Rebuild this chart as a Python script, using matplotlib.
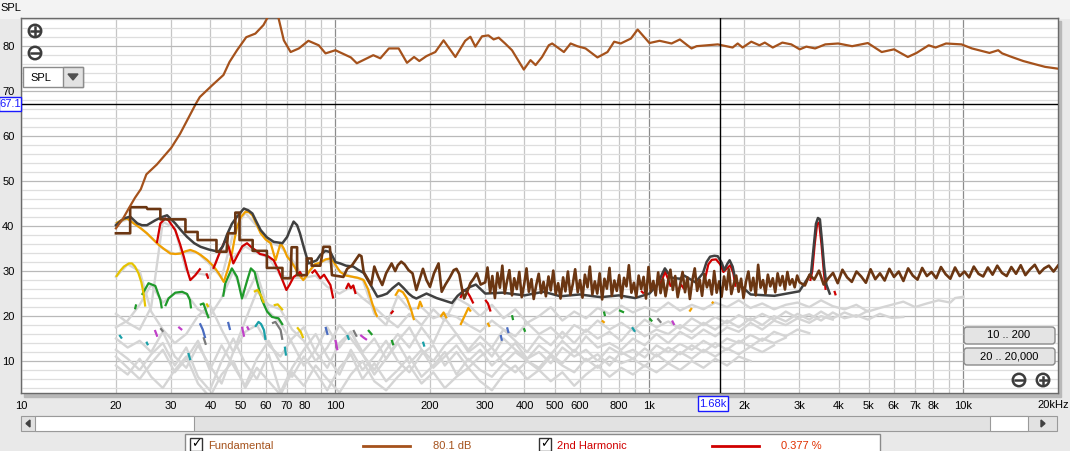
import numpy as np
import matplotlib.pyplot as plt
from matplotlib.patches import Rectangle, Circle, FancyBboxPatch, Polygon

# ---------------- data (Hz, dB SPL) ----------------
fund_f = [20, 21, 22, 23, 24, 25, 27, 30, 32, 34, 36, 37, 40.5, 44, 46, 48.6, 52, 55.6, 59, 61.5,
          65.5, 68.5, 72, 76.5, 82, 88.5, 93, 100, 112, 117, 132, 139, 148, 159, 169, 178, 185, 195,
          208, 221, 241, 259, 269, 279, 293, 307, 319, 331, 347, 365, 398, 418, 434, 455, 478, 490,
          534, 561, 589, 626, 683, 735, 772, 810, 873, 917, 1000, 1077, 1176, 1250, 1361, 1413, 1650,
          1840, 1910, 1980, 2110, 2240, 2330, 2470, 2650, 2830, 3010, 3160, 3370, 3630, 3990, 4420,
          4960, 5490, 6010, 6650, 7090, 7750, 8150, 8800, 9860, 10640, 12100, 12900, 13280, 14250,
          15500, 16880, 18200, 20000]
fund_db = [39.5, 41.5, 44.0, 46.3, 48.2, 51.5, 53.7, 57.4, 60.5, 64.0, 67.3, 68.7, 71.3, 73.6, 76.5,
           79.1, 82.0, 82.8, 84.7, 87.0, 87.0, 81.3, 78.7, 79.5, 81.2, 80.2, 78.4, 79.1, 77.5, 76.2,
           78.0, 77.3, 79.5, 79.5, 76.3, 77.6, 76.7, 77.8, 78.7, 81.3, 77.6, 81.2, 82.1, 79.9, 82.2,
           82.4, 81.5, 81.9, 80.6, 79.1, 74.8, 76.9, 75.8, 77.6, 80.2, 80.6, 78.7, 80.6, 80.0, 79.5,
           77.5, 78.7, 81.0, 80.6, 81.7, 83.7, 80.7, 81.2, 80.6, 81.5, 79.5, 80.0, 80.4, 79.7, 80.6,
           79.7, 81.0, 80.2, 80.8, 79.7, 80.8, 80.4, 79.3, 79.9, 79.5, 80.4, 80.6, 80.0, 80.7, 78.7,
           79.3, 77.6, 78.5, 80.2, 79.7, 80.6, 80.4, 79.5, 78.5, 79.1, 78.4, 77.6, 76.7, 76.0, 75.4, 75.0]

# noise floor, three bands
noise_lo_f = [20, 22.2, 22.2, 25, 25.2, 27.7, 27.7, 33.3, 33.3, 36.4, 36.4, 41.8, 41.8, 45, 45.5, 48,
              48, 49.5, 49.5, 54.5, 54.5, 60.5, 60.5, 67.8, 67.8, 72, 72.5, 75.5, 75.5, 81, 81, 84,
              84, 89.5, 91.6, 96, 97.5, 106, 109, 113, 119, 121, 123, 130, 133, 137, 141, 145, 151,
              155, 158, 162, 166, 171, 176, 181, 186, 190, 195, 200, 206, 213, 218, 224, 231, 238,
              243, 248, 253, 257, 263, 269, 276, 282, 290]
noise_lo_db = [38.4, 38.4, 44.2, 44.2, 43.8, 43.8, 41.5, 41.5, 38.7, 38.7, 36.9, 36.9, 34.3, 34.3,
               38.4, 38.4, 43.0, 43.0, 36.9, 36.9, 34.5, 34.5, 30.7, 30.7, 28.4, 28.4, 35.3, 35.3,
               29.1, 29.1, 32.8, 32.8, 31.2, 31.2, 35.4, 35.4, 29.1, 28.7, 30.5, 31.3, 33.6, 33.3,
               29.8, 26.9, 31.0, 28.7, 26.9, 29.5, 31.7, 30.0, 31.3, 32.1, 31.5, 30.2, 29.5, 25.8,
               28.4, 30.5, 28.0, 26.5, 29.5, 31.7, 25.4, 27.0, 28.5, 30.2, 30.5, 29.3, 26.0, 23.9,
               25.5, 27.3, 28.4, 29.5, 27.0]
noise_mid_f = [300, 305, 311, 316, 322, 328, 334, 340, 346, 352, 358, 365, 371, 378, 385, 392, 399,
               406, 413, 421, 428, 436, 444, 452, 460, 468, 477, 485, 494, 503, 512, 521, 531, 540,
               550, 560, 570, 580, 591, 601, 612, 623, 635, 646, 658, 670, 682, 694, 707, 719, 732,
               746, 759, 773, 787, 801, 815, 830, 845, 860, 876, 892, 908, 924, 941, 958, 975, 993,
               1010, 1029, 1047, 1066, 1085, 1105, 1125, 1145, 1166, 1187, 1208, 1230, 1252, 1275,
               1298, 1321, 1345, 1369, 1394, 1419, 1445, 1471, 1497, 1524, 1552, 1580, 1608, 1637,
               1667, 1697, 1728, 1759, 1790, 1823, 1856, 1889, 1923, 1958, 1993, 2029, 2066, 2103,
               2141, 2180, 2219, 2259, 2300, 2341, 2383, 2426, 2470, 2515, 2560, 2606, 2653, 2701,
               2750, 2799, 2850, 2901, 2954, 3007]
noise_mid_db = [27.5, 30.8, 25.2, 28.9, 24.0, 29.6, 26.3, 31.2, 25.0, 27.8, 30.2, 24.6, 28.4, 26.0,
                29.8, 24.2, 27.0, 30.6, 25.4, 28.2, 23.8, 26.9, 29.4, 25.1, 27.6, 24.4, 28.8, 25.7,
                30.1, 24.9, 27.3, 23.9, 28.6, 25.5, 29.9, 24.7, 27.1, 30.4, 25.3, 28.0, 24.1, 29.2,
                26.4, 31.0, 24.8, 27.7, 25.0, 29.5, 23.7, 28.3, 26.1, 30.7, 24.5, 27.9, 25.6, 29.1,
                24.0, 28.5, 26.6, 31.3, 25.2, 27.4, 24.3, 29.0, 26.0, 28.7, 23.9, 30.9, 25.5, 27.8,
                24.6, 29.7, 25.1, 28.2, 24.4, 27.5, 30.3, 25.8, 28.9, 24.2, 27.0, 29.8, 25.3, 28.6,
                23.8, 27.9, 30.6, 25.6, 28.1, 24.5, 29.3, 26.4, 28.0, 24.8, 30.0, 25.2, 27.7, 24.3,
                28.8, 25.9, 30.4, 24.9, 27.2, 29.0, 25.4, 28.3, 24.0, 27.6, 29.9, 25.7, 28.5, 24.6,
                31.4, 26.3, 28.0, 25.0, 29.2, 26.6, 28.4, 25.3, 29.5, 26.8, 28.9, 25.9, 29.8, 27.0,
                28.2, 26.4, 29.0, 27.5]
noise_hi_f = [3126, 3235, 3349, 3466, 3587, 3713, 3843, 3977, 4117, 4261, 4410, 4564, 4724, 4889,
              5060, 5238, 5421, 5611, 5807, 6010, 6221, 6438, 6664, 6897, 7138, 7388, 7647, 7914,
              8191, 8478, 8775, 9082, 9400, 9729, 10069, 10422, 10787, 11164, 11555, 11959, 12378,
              12811, 13260, 13724, 14204, 14701, 15216, 15748, 16299, 16870, 17460, 18072, 18704,
              19359, 20000]
noise_hi_db = [26.8, 29.2, 28.1, 30.1, 27.0, 28.4, 29.6, 27.3, 30.3, 28.6, 27.6, 29.9, 28.8, 27.4,
               30.4, 28.2, 29.5, 27.9, 30.5, 28.7, 29.9, 27.8, 30.6, 29.0, 28.1, 30.7, 28.9, 29.8,
               28.4, 30.9, 29.3, 28.3, 30.8, 28.9, 29.9, 28.6, 31.0, 29.4, 28.8, 30.8, 29.2, 31.2,
               29.6, 28.9, 30.9, 29.4, 31.3, 29.1, 30.4, 31.4, 29.5, 30.6, 31.2, 29.9, 31.2]

thd_f = [20, 20.6, 21.2, 22.2, 23.4, 24.2, 25.1, 26.7, 28, 29.1, 30, 30.9, 32.3, 33.7, 35.5, 37.2,
         39.5, 42.4, 43.8, 45.1, 46.8, 48.6, 51.1, 52.8, 54.4, 56, 57.8, 60.5, 63.6, 67.8, 70.2, 72,
         73.6, 75.5, 77.1, 79.5, 82.1, 84.5, 87.2, 89.5, 93, 96.4, 100, 103.6, 108, 114, 118, 123,
         128, 133, 136, 141, 146, 152, 159, 165, 171, 176, 181, 195, 210, 235, 245, 254, 262, 269,
         280, 300, 340, 400, 460, 520, 600, 700, 800, 900, 1000, 1060, 1100, 1120, 1150, 1180,
         1250, 1290, 1400, 1480, 1520, 1560, 1610, 1650, 1700, 1730, 1770, 1800, 1840, 1870, 1900,
         2100, 2500, 3000, 3200, 3270, 3330, 3390, 3440, 3490, 3540, 3600, 3660, 3750]
thd_db = [40.2, 41.0, 41.7, 42.1, 40.6, 40.2, 40.2, 41.3, 42.0, 42.4, 41.5, 40.6, 39.0, 37.6, 36.2,
          35.4, 34.8, 34.3, 35.5, 38.0, 40.5, 42.1, 43.9, 43.5, 42.8, 41.0, 39.1, 37.5, 36.5, 36.2,
          37.6, 39.5, 41.0, 40.2, 38.4, 35.0, 31.7, 32.0, 32.4, 33.6, 34.5, 34.2, 32.0, 31.7, 31.2,
          31.0, 30.3, 29.6, 27.5, 25.5, 24.3, 24.6, 25.0, 26.2, 27.3, 26.2, 25.0, 24.3, 23.9, 25.0,
          24.0, 22.9, 24.5, 25.4, 26.0, 26.5, 27.0, 25.0, 25.2, 24.6, 25.4, 24.4, 24.8, 24.2, 24.6,
          24.0, 25.0, 27.0, 29.5, 30.6, 29.4, 28.5, 28.3, 29.0, 27.5, 29.5, 32.0, 33.2, 33.4, 33.3,
          31.8, 30.2, 31.6, 32.4, 31.0, 28.7, 27.5, 24.8, 24.5, 25.5, 28.5, 29.5, 35.0, 40.5, 41.8,
          41.5, 37.0, 31.0, 27.0, 25.0]

# harmonic curves (light grey where they sit below the noise), common frequency grid
harm_f = [20, 21.8, 23.8, 25.9, 28.2, 30.8, 33.5, 36.5, 39.8, 43.4, 47.3, 51.6, 56.2, 61.3, 66.8,
          72.8, 79.3, 86.5, 94.2, 103, 112, 122, 133, 145, 158, 172, 188, 205, 223, 243, 265, 289,
          315, 343, 374, 408, 445, 485, 528, 576, 628, 684, 746, 813, 886, 966, 1053, 1148, 1251,
          1364, 1486, 1620, 1766, 1925, 2098, 2287, 2493, 2717, 2962, 3228, 3519, 3835, 4181, 4557,
          4967, 5414, 5902, 6433, 7012, 7643, 8331, 9080, 9400, 10000]
h2_db = [20.5, 18.5, 17.0, 22.0, 41.0, 39.5, 30.0, 29.5, 29.0, 35.0, 33.0, 35.5, 34.0, 33.0, 29.0,
         28.5, 28.5, 29.0, 26.5, 25.0, 26.5, 24.0, 22.0, 19.5, 17.5, 20.5, 18.0, 21.5, 19.0, 24.0,
         22.5, 20.0, 22.5, 19.5, 21.5, 18.5, 20.0, 22.0, 19.0, 21.0, 19.5, 21.8, 20.5, 22.3, 20.8,
         22.0, 21.0, 23.0, 21.2, 22.5, 21.5, 23.0, 22.0, 23.5, 21.8, 22.8, 21.5, 22.5, 23.0, 22.0,
         23.5, 22.2, 21.5, 22.5, 21.0, 21.8, 22.5, 23.2, 22.0, 22.8, 23.5, 23.0, 24.0, 24.3]
h3_db = [40.6, 41.5, 39.8, 37.5, 35.0, 33.8, 34.3, 34.0, 31.5, 28.5, 38.5, 43.0, 40.0, 36.5, 35.5,
         32.5, 28.5, 31.5, 32.5, 30.0, 28.8, 28.2, 20.5, 18.0, 24.5, 21.5, 22.0, 19.5, 20.5, 19.8,
         18.0, 16.5, 19.0, 17.0, 15.5, 18.5, 16.0, 17.5, 15.0, 18.0, 16.5, 19.0, 17.0, 18.5, 16.8,
         19.2, 17.5, 18.8, 17.2, 19.5, 18.0, 19.8, 18.4, 20.2, 19.0, 20.5, 19.2, 21.0, 19.6, 20.4,
         19.0, 20.8, 19.5, 20.2, 19.2, 20.5, 19.6, 19.8]
h4_db = [28.7, 31.5, 30.0, 21.0, 17.0, 14.0, 16.0, 20.0, 22.5, 17.0, 12.0, 19.0, 25.5, 22.5, 21.5,
         17.0, 14.5, 10.0, 13.0, 18.0, 15.0, 11.5, 8.0, 12.5, 16.0, 13.0, 17.5, 14.0, 19.5, 16.0,
         12.5, 15.5, 13.0, 17.0, 14.5, 12.0, 15.5, 13.5, 16.5, 14.0, 17.0, 15.0, 16.5, 14.5, 17.5,
         15.5, 17.0, 16.0, 18.0, 16.5, 18.5, 17.0, 19.0, 17.5, 19.5, 18.0, 20.0, 18.8, 20.5, 19.2,
         21.0, 19.5, 20.8, 19.8, 21.2]
h5_db = [17.5, 19.0, 22.5, 27.0, 23.0, 25.0, 25.0, 21.5, 20.0, 24.0, 30.0, 24.0, 29.5, 21.0, 18.5,
         14.0, 9.0, 12.5, 17.5, 13.0, 16.5, 12.0, 15.0, 10.5, 14.5, 17.5, 12.5, 10.0, 13.5, 16.0,
         12.0, 14.0, 11.0, 15.0, 12.5, 10.5, 13.5, 11.5, 14.5, 12.0, 15.5, 13.0, 14.0, 12.5, 15.0,
         13.5, 16.0, 14.0, 16.5, 15.0, 17.0, 15.5, 17.5, 16.5, 18.5, 17.0, 19.0, 18.0, 19.5, 18.5,
         20.0, 19.2]
h6_db = [15.0, 13.0, 14.5, 12.0, 16.5, 11.0, 8.5, 13.5, 9.0, 5.0, 12.0, 16.5, 18.0, 13.5, 11.0,
         15.0, 17.5, 12.0, 8.5, 14.0, 16.5, 11.5, 7.0, 10.5, 14.0, 9.5, 12.5, 8.5, 11.0, 13.5, 10.0,
         12.5, 9.0, 11.5, 14.0, 10.5, 12.0, 9.5, 13.0, 11.0, 12.5, 10.0, 13.0, 11.5, 12.5, 10.8,
         13.5, 12.0, 13.8, 12.5, 14.5, 13.0, 15.0, 14.0, 15.8, 14.5, 16.5, 15.5, 17.0, 16.2]
h7_db = [12.5, 10.5, 8.0, 11.5, 14.0, 9.0, 13.0, 6.5, 3.5, 10.0, 15.0, 9.5, 6.0, 11.5, 3.0, 8.5,
         12.5, 16.0, 11.0, 7.0, 12.5, 8.0, 11.0, 14.5, 10.0, 7.5, 11.5, 13.5, 9.0, 12.0, 8.5, 11.0,
         13.0, 9.5, 12.0, 10.0, 8.5, 11.5, 9.5, 12.5, 10.0, 11.5, 9.0, 12.0, 10.5, 12.8, 11.0, 13.0,
         11.5, 13.5, 12.0, 14.0, 12.5, 14.5, 13.2, 15.0, 14.0, 15.2]
h8_db = [11.0, 8.5, 6.0, 9.5, 12.5, 7.5, 10.5, 14.5, 8.0, 13.5, 9.0, 4.5, 10.5, 14.5, 9.5, 6.5,
         11.0, 7.5, 3.5, 8.5, 11.5, 6.0, 9.5, 5.5, 8.0, 11.0, 6.5, 9.0, 12.0, 7.0, 10.5, 8.0, 6.5,
         9.5, 7.5, 10.0, 8.0, 11.0, 9.0, 7.5, 10.5, 8.5, 11.0, 9.5, 10.5, 8.8, 11.5, 9.5, 12.0,
         10.5, 12.5, 11.0, 12.8, 11.5, 13.2, 12.0, 13.5]
h9_db = [9.0, 7.0, 10.5, 6.5, 4.0, 8.0, 11.0, 5.0, 2.0, 7.0, 10.0, 4.0, 8.5, 5.5, 2.5, 7.5, 4.5,
         9.0, 6.0, 3.0, 7.0, 10.0, 5.5, 3.5, 6.5, 9.0, 5.0, 7.5, 4.0, 6.5, 8.5, 5.5, 3.5, 7.0, 9.0,
         6.0, 8.0, 5.5, 7.5, 4.5, 7.0, 9.0, 6.5, 8.5, 7.0, 9.0, 7.5, 9.5, 8.0, 10.0, 8.5, 10.5,
         9.0, 11.0, 10.0]

# parts of the harmonics that are shown in colour
red_parts = [
    [(27, 36.2), (27.7, 40.6), (28.7, 41.7), (29.4, 41.3), (30.9, 39.1), (32.0, 36.0), (32.9, 33.2),
     (33.8, 30.0), (34.5, 28.0), (35.8, 29.1), (37.2, 30.6)],
    [(38.8, 29.5), (39.4, 28.3)],
    [(40.8, 30.5), (41.5, 31.7), (43, 34.5), (44.6, 36.9), (45.7, 35.4), (47.3, 31.7), (49.1, 33.9),
     (50.5, 35.5), (52.3, 36.2), (54, 35.3), (55.5, 34.7), (57.5, 33.8), (59.2, 33.6), (61, 33.3),
     (63.6, 32.4), (66, 30.0), (67.8, 28.0), (69.8, 25.8), (71.5, 27.0), (73.6, 28.7), (75.5, 29.2),
     (77.1, 29.8), (78.5, 28.8)],
    [(84, 29.5), (86, 30.2), (89.5, 28.4), (92, 29.2), (96.4, 26.9), (98.4, 23.9)],
    [(108, 26.0), (110, 27.2), (112, 26.2), (114, 26.8), (116, 24.9)],
    [(150, 20.5), (153, 21.2)],
    [(250, 24.0), (256, 25.8), (262, 25.5), (268, 24.4), (275, 22.8)],
    [(300, 23.6), (306, 22.8), (312, 21.0)],
    [(940, 25.6), (960, 25.0)],
    [(1080, 27.0), (1110, 29.0), (1120, 30.0), (1150, 28.0), (1170, 26.5)],
    [(1230, 25.5), (1260, 27.0), (1290, 26.0)],
    [(1500, 28.0), (1540, 31.5), (1580, 32.5), (1630, 32.6), (1680, 31.5), (1720, 29.8),
     (1760, 30.5), (1810, 31.3), (1850, 29.5), (1880, 26.5)],
    [(3250, 27.8), (3300, 30.0), (3360, 36.0), (3420, 40.5), (3470, 40.8), (3530, 36.0),
     (3590, 30.0), (3640, 25.8)],
    [(3880, 25.6), (3920, 24.6)],
]
orange_parts = [
    [(20, 40.6), (20.8, 41.3), (21.7, 41.7), (22.8, 40.6), (24, 39.5), (25.1, 38.4), (26.3, 37.0),
     (27.4, 35.8), (28.6, 34.8), (29.8, 33.9), (31, 33.8), (32.1, 33.9), (33.3, 34.4), (34.5, 34.7),
     (35.8, 34.3), (37.2, 33.6), (39, 32.5), (41, 31.0), (42.5, 29.5), (44.1, 27.6), (45.5, 30.5),
     (46.8, 33.9), (47.7, 37.0), (48.6, 39.8), (50, 42.0), (51.7, 43.2), (53, 43.1), (54.4, 42.4),
     (56, 40.5), (57.8, 38.4), (60, 37.0), (62.2, 36.2), (63.5, 34.0), (64.5, 32.4), (65.5, 34.0),
     (66.9, 36.2), (68.5, 35.0), (70.2, 33.2), (72, 32.3), (74, 31.0), (76, 29.5), (79, 28.0),
     (81, 29.0), (83, 30.2), (86, 31.5), (89.5, 31.9), (93, 32.6), (96.4, 32.8), (98.5, 32.1),
     (103.6, 29.8), (108, 29.0), (114, 28.7), (118, 28.5), (123, 28.0), (127, 26.0), (131, 22.8),
     (134, 20.8), (136, 19.8)],
    [(155, 24.5), (159, 25.8), (164, 25.3), (169, 23.9), (174, 21.5), (178, 19.1)],
    [(183, 21.5), (186, 23.2), (189, 22.0)],
    [(216, 19.8), (221, 20.8), (226, 19.5)],
    [(250, 18.0), (257, 19.8), (265, 21.8), (270, 21.0)],
    [(305, 18.5), (310, 17.6)],
    [(705, 19.0), (720, 18.5)],
    [(1340, 21.0), (1365, 21.8)],
    [(1580, 22.8), (1600, 23.2)],
]
yellow_parts = [
    [(20, 28.7), (20.6, 30.0), (21.2, 31.0), (22, 31.7), (22.5, 31.7), (23, 31.0), (23.6, 29.5),
     (24.1, 27.5), (24.5, 25.0), (24.8, 22.1)],
    [(38.8, 22.8), (39.4, 22.0)],
    [(55, 25.4), (56.5, 25.8), (58, 24.5), (59.2, 22.9)],
    [(63.6, 22.4), (65.5, 22.6), (68, 21.3)],
    [(75.5, 17.5), (77.5, 16.5), (79, 15.1)],
]
green_parts = [
    [(23.0, 21.5), (23.2, 22.6)],
    [(24.2, 24.7), (25.4, 27.3), (26.7, 26.7), (27.7, 23.6), (28, 21.7)],
    [(28.7, 22.2), (29.4, 23.9), (30.9, 25.2), (32.5, 25.4), (33.7, 24.9), (34.4, 23.6), (34.7, 21.7)],
    [(37.0, 22.5), (38.0, 22.8), (39.0, 20.5), (39.5, 19.5)],
    [(43.9, 24.3), (44.6, 27.3), (46.8, 30.6), (48.6, 28.7), (50.4, 23.9), (52.4, 28.0), (53.8, 30.6),
     (55.3, 29.8), (56.1, 28.0), (58.3, 23.6), (60.6, 21.0), (62.8, 19.8), (65.9, 19.5), (68, 18.0)],
    [(127, 16.9), (131, 15.8)],
    [(151, 14.7), (153, 13.5)],
    [(365, 20.2), (368, 19.1)],
    [(398, 17.3), (402, 16.5)],
    [(716, 21.0), (722, 20.0)],
    [(800, 21.3), (830, 20.8)],
    [(1000, 19.5), (1020, 18.8)],
]
teal_parts = [
    [(20.5, 15.8), (20.9, 15.0)],
    [(25.0, 14.3), (25.3, 13.5)],
    [(34.0, 11.8), (34.5, 10.2)],
    [(55.5, 17.6), (56.9, 18.7), (58.0, 18.2), (59.2, 16.9), (59.9, 14.7)],
    [(69, 13.2), (69.6, 11.2)],
    [(109, 15.8), (110.5, 14.7)],
    [(190, 14.3), (192, 13.2)],
    [(880, 17.5), (900, 16.5)],
]
blue_parts = [
    [(37.0, 18.4), (37.8, 17.0), (38.5, 15.1)],
    [(45.5, 18.7), (46.2, 16.9)],
    [(93, 17.6), (94.5, 15.8)],
    [(336, 15.8), (339, 14.5)],
    [(352, 17.5), (356, 16.2)],
]
purple_parts = [
    [(26.6, 16.9), (27.1, 15.4)],
    [(31.6, 17.6), (32.5, 16.9)],
    [(50.4, 17.6), (51.2, 15.4)],
    [(52.3, 17.7), (53.0, 16.9)],
    [(100, 14.7), (101.5, 12.4)],
    [(120, 15.8), (123, 15.2), (126, 14.7)],
    [(1180, 19.0), (1200, 18.0)],
]
grey_parts = [
    [(27.7, 17.3), (28.3, 16.5)],
    [(38.0, 15.3), (38.7, 13.6)],
    [(62.8, 18.4), (64.4, 18.7), (66.9, 16.9), (67.8, 14.7)],
    [(114, 16.9), (117, 15.4)],
    [(1060, 19.5), (1090, 18.5)],
]

tick_f = [10, 20, 30, 40, 50, 60, 70, 80, 100, 200, 300, 400, 500, 600, 800, 1000, 2000, 3000,
          4000, 5000, 6000, 7000, 8000, 10000]
tick_lbl = ['10', '20', '30', '40', '50', '60', '70', '80', '100', '200', '300', '400', '500', '600',
            '800', '1k', '2k', '3k', '4k', '5k', '6k', '7k', '8k', '10k']
ytick_v = [10, 20, 30, 40, 50, 60, 70, 80]
cursor_f, cursor_db = 1680, 67.1

# ---------------- figure ----------------
plt.rcParams['font.family'] = ['Liberation Sans', 'DejaVu Sans']
W, H = 1070, 451
fig = plt.figure(figsize=(W / 100, H / 100), dpi=100)
fig.patch.set_facecolor('#e9e9e9')
T = fig.dpi_scale_trans


def P(x, y):
    return (x / 100, (H - y) / 100)


# top strip and plot shadow
fig.add_artist(Rectangle(P(0, 18), W / 100, 0.18, transform=T, color='#f3f3f3', zorder=0))
fig.add_artist(Rectangle(P(24, 397), (1061 - 24) / 100, (397 - 21) / 100, transform=T,
                         color='#b8b8b8', zorder=0))

L, R, TOP, BOT = 21.4, 1058, 18.3, 392.7
ax = fig.add_axes([L / W, 1 - BOT / H, (R - L) / W, (BOT - TOP) / H])
ax.set_xscale('log')
ax.set_xlim(10, 20000)
ax.set_ylim(2.96, 86.2)
ax.set_facecolor('white')
for s in ax.spines.values():
    s.set_color('#6a6a6a')
    s.set_linewidth(1.0)

# grid
for k in range(1, 5):
    for m in range(1, 10):
        f = m * 10 ** k
        if f < 20000:
            ax.axvline(f, color='#8c8c8c' if m == 1 else '#c6c6c6', lw=0.9, zorder=1)
for v in range(4, 87, 2):
    ax.axhline(v, color='#b9b9b9' if v % 10 == 0 else '#dedede', lw=0.9, zorder=1)

# harmonic traces in light grey
for hdb in [h2_db, h3_db, h4_db, h5_db, h6_db, h7_db, h8_db, h9_db]:
    ax.plot(harm_f[:len(hdb)], hdb, color='#d5d5d5', lw=1.7, zorder=2, solid_joinstyle='round')

# coloured parts
for parts, col in [(grey_parts, '#7a7a7a'), (purple_parts, '#c040c8'), (blue_parts, '#4a6cc0'),
                   (teal_parts, '#1aa0a8'), (green_parts, '#1f9a2a'), (yellow_parts, '#e6c300'),
                   (orange_parts, '#f0a000'), (red_parts, '#d00000')]:
    for part in parts:
        pf, pd = zip(*part)
        ax.plot(pf, pd, color=col, lw=1.6, zorder=3, solid_capstyle='butt')

ax.plot(thd_f, thd_db, color='#404040', lw=1.8, zorder=4)
noise = list(zip(noise_lo_f, noise_lo_db)) + list(zip(noise_mid_f, noise_mid_db)) + \
    list(zip(noise_hi_f, noise_hi_db))
nf, nd = zip(*noise)
ax.plot(nf, nd, color='#6b3612', lw=1.9, zorder=5)
ax.plot(fund_f, fund_db, color='#a5521c', lw=1.6, zorder=6)

# cursor
ax.axhline(cursor_db, color='black', lw=1.0, zorder=7)
ax.axvline(cursor_f, color='black', lw=1.0, zorder=7)

# ticks
ax.set_xticks(tick_f)
ax.set_xticklabels(tick_lbl, fontsize=8)
ax.minorticks_off()
ax.set_yticks(ytick_v)
ax.set_yticklabels([str(v) for v in ytick_v], fontsize=8)
ax.tick_params(length=0, pad=6)
ax.tick_params(axis='y', pad=5)
fig.text(1037 / W, 1 - 405 / H, '20kHz', fontsize=8, ha='left', va='center')

fig.text(0.0, 1 - 8 / H, 'SPL', fontsize=8, va='center', ha='left')

# cursor labels
fig.add_artist(Rectangle(P(-1, 111), 22 / 100, 14 / 100, transform=T, facecolor='white',
                         edgecolor='#1a1aff', lw=1.0, zorder=8))
fig.text(10 / W, 1 - 104 / H, f'{cursor_db:.1f}', color='#1a1aff', fontsize=8, ha='center',
         va='center', zorder=9)
fig.add_artist(Rectangle(P(698, 411), 30 / 100, 15 / 100, transform=T, facecolor='white',
                         edgecolor='#1a1aff', lw=1.0, zorder=8))
fig.text(713 / W, 1 - 404 / H, '1.68k', color='#1a1aff', fontsize=8, ha='center', va='center',
         zorder=9)


def zoom_icon(cx, cy, plus):
    fig.add_artist(Circle(P(cx, cy), 0.062, transform=T, facecolor='white', edgecolor='#3c3c3c',
                          lw=1.8, zorder=10))
    x0, y0 = P(cx, cy)
    fig.add_artist(plt.Line2D([x0 - 0.035, x0 + 0.035], [y0, y0], transform=T, color='#3c3c3c',
                              lw=1.8, zorder=11))
    if plus:
        fig.add_artist(plt.Line2D([x0, x0], [y0 - 0.035, y0 + 0.035], transform=T,
                                  color='#3c3c3c', lw=1.8, zorder=11))


zoom_icon(35, 31, True)
zoom_icon(35, 53, False)
zoom_icon(1019, 380, False)
zoom_icon(1043, 380, True)

# SPL selector
fig.add_artist(Rectangle(P(23, 87), 0.60, 0.20, transform=T, facecolor='white',
                         edgecolor='#8c8c8c', lw=1.0, zorder=10))
fig.add_artist(Rectangle(P(63, 87), 0.20, 0.20, transform=T, facecolor='#e2e2e2',
                         edgecolor='#8c8c8c', lw=1.0, zorder=10))
fig.add_artist(Polygon([P(68, 74), P(78, 74), P(73, 80)], closed=True, transform=T,
                       color='#505050', zorder=11))
fig.text(30 / W, 1 - 78 / H, 'SPL', fontsize=8, va='center', ha='left', zorder=11)

# range buttons
for y0, lbl in [(327, '10 .. 200'), (348, '20 .. 20,000')]:
    fig.add_artist(FancyBboxPatch(P(964, y0 + 17), 0.91, 0.17, transform=T,
                                  boxstyle='round,pad=0,rounding_size=0.03',
                                  facecolor='#e4e4e4', edgecolor='#8a8a8a', lw=1.0, zorder=10))
    fig.text(1009 / W, 1 - (y0 + 8.5) / H, lbl, fontsize=8, ha='center', va='center', zorder=11)

# scrollbar
fig.add_artist(Rectangle(P(21, 431), (1057 - 21) / 100, 0.15, transform=T, facecolor='#e2e2e2',
                         edgecolor='#9a9a9a', lw=0.8, zorder=10))
fig.add_artist(Rectangle(P(35, 431), (194 - 35) / 100, 0.15, transform=T, facecolor='white',
                         edgecolor='#9a9a9a', lw=0.8, zorder=11))
fig.add_artist(Rectangle(P(990, 431), (1028 - 990) / 100, 0.15, transform=T, facecolor='white',
                         edgecolor='#9a9a9a', lw=0.8, zorder=11))
fig.add_artist(Polygon([P(30, 420), P(30, 427), P(26, 423.5)], closed=True, transform=T,
                       color='#404040', zorder=12))
fig.add_artist(Polygon([P(1041, 420), P(1041, 427), P(1045, 423.5)], closed=True, transform=T,
                       color='#404040', zorder=12))

# legend strip
fig.add_artist(Rectangle(P(185, 455), (880 - 185) / 100, 0.21, transform=T, facecolor='white',
                         edgecolor='#8a8a8a', lw=1.0, zorder=10))
for x0, name, val, col in [(190, 'Fundamental', '80.1 dB', '#a5521c'),
                           (539, '2nd Harmonic', '0.377 %', '#d00000')]:
    fig.add_artist(Rectangle(P(x0, 451), 0.12, 0.13, transform=T, facecolor='white',
                             edgecolor='#333333', lw=1.0, zorder=11))
    fig.text((x0 + 6) / W, 1 - 444 / H, '\u2713', fontsize=9, ha='center', va='center',
             family='DejaVu Sans', zorder=12)
    fig.text((x0 + 18) / W, 1 - 446 / H, name, fontsize=8, color=col, va='center', zorder=12)
    lx0, ly = P(x0 + 173, 446)
    fig.add_artist(plt.Line2D([lx0, lx0 + 0.47], [ly, ly], transform=T, color=col, lw=2,
                              zorder=12))
    fig.text((x0 + 262) / W, 1 - 446 / H, val, fontsize=8, color=col if col != '#d00000'
             else '#e03000', ha='center', va='center', zorder=12)

fig.savefig('out.png', dpi=100, facecolor=fig.get_facecolor())
